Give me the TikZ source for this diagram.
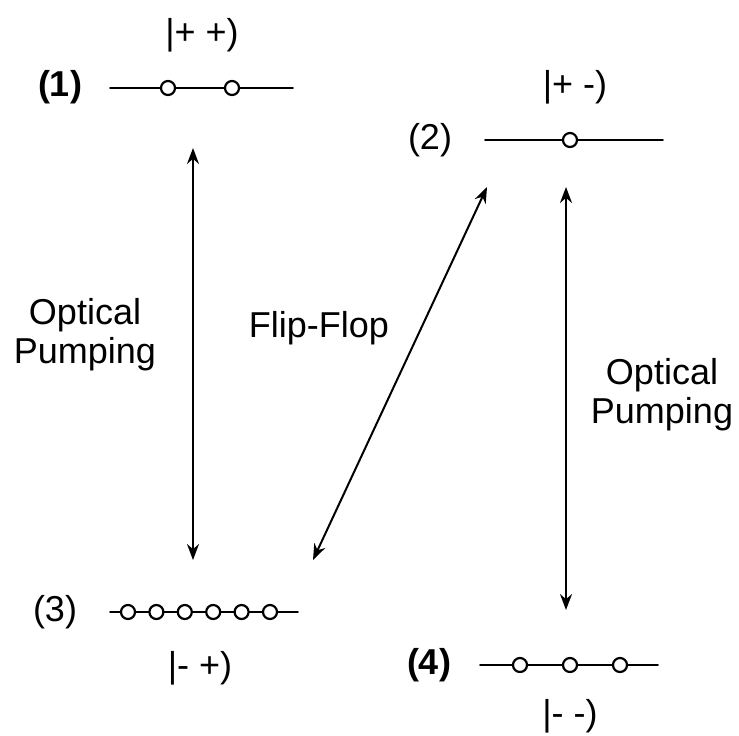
\documentclass[tikz,border=0pt]{standalone}
\usepackage{fontspec}
\setmainfont{Liberation Sans}
\usetikzlibrary{arrows.meta}

\begin{document}
\begin{tikzpicture}[x=0.5pt,y=-0.5pt,>={Stealth[length=8pt,width=6pt]},line cap=round,
  font=\fontsize{18}{19.5}\selectfont,
  level/.style={line width=0.8pt},
  spin/.style={circle,draw,fill=white,line width=1.1pt,inner sep=0pt,minimum size=7pt},
  pump/.style={<->,line width=1pt}]
\useasboundingbox (0,0) rectangle (739,735);
% level (1)
\node (k1) at (202,35) {|+ +)};
\node[font=\fontsize{18}{19.5}\selectfont\bfseries] (n1) at (60,87) {(1)};
\draw[level] (110,88) -- (293,88);
\foreach \x/\i in {168/a,232/b} \node[spin] (s1\i) at (\x,88) {};
% level (2)
\node (k2) at (575,87) {|+ -)};
\node (n2) at (430,140) {(2)};
\draw[level] (485,140) -- (663,140);
\node[spin] (s2a) at (570,140) {};
% level (3)
\node (n3) at (55,612) {(3)};
\draw[level] (110,612) -- (298,612);
\foreach \k in {0,...,5} \node[spin] (s3\k) at (128+28.4*\k,612) {};
\node (k3) at (200,668) {|- +)};
% level (4)
\node[font=\fontsize{18}{19.5}\selectfont\bfseries] (n4) at (429,665) {(4)};
\draw[level] (480,665) -- (658,665);
\foreach \x/\i in {520/a,570/b,620/c} \node[spin] (s4\i) at (\x,665) {};
\node (k4) at (570,716) {|- -)};
% transitions
\coordinate (t1) at (193,148);
\coordinate (b3) at (193,560);
\coordinate (t2) at (566,187);
\coordinate (b4) at (566,610);
\coordinate (f2) at (487,187);
\coordinate (f3) at (313,560);
\draw[pump] (t1) -- (b3);
\draw[pump] (t2) -- (b4);
\draw[pump] (f2) -- (f3);
\node[align=center] (op1) at (85,335) {Optical\\Pumping};
\node (ff) at (319,328) {Flip-Flop};
\node[align=center] (op2) at (662,395) {Optical\\Pumping};
\end{tikzpicture}
\end{document}
